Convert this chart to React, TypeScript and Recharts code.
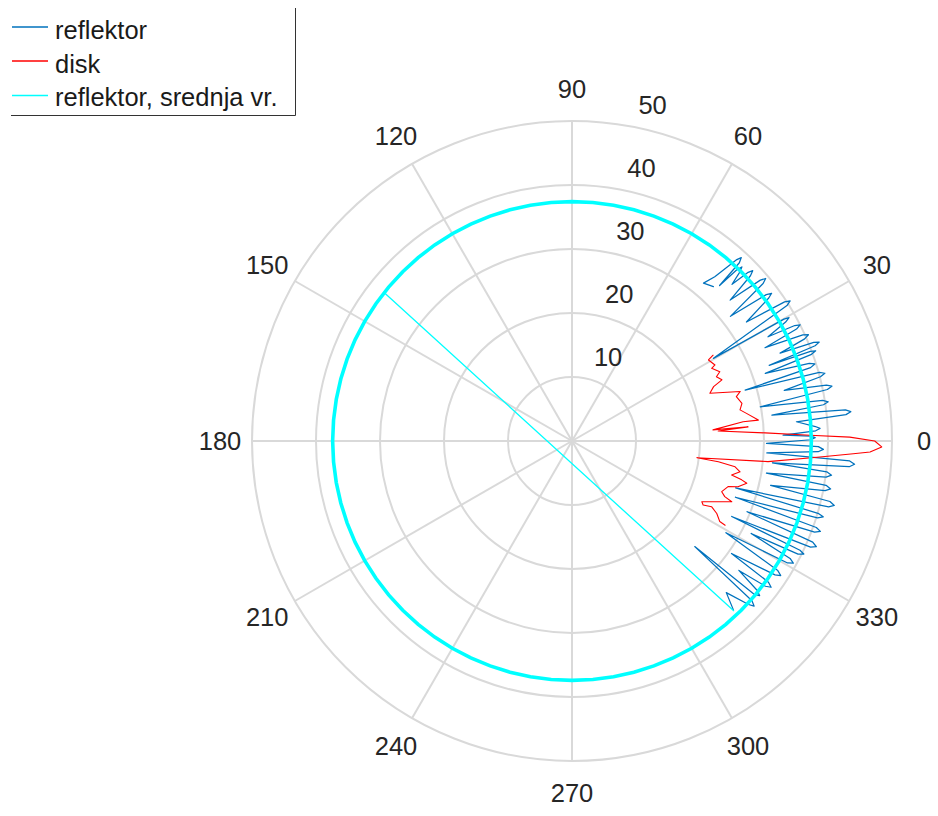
import React from 'react';
import { RadarChart, PolarGrid, PolarAngleAxis, PolarRadiusAxis, Radar } from 'recharts';

// ---------- data ----------
const ANGLE_TICKS = [0, 30, 60, 90, 120, 150, 180, 210, 240, 270, 300, 330];
const RADIUS_TICKS = [0, 10, 20, 30, 40, 50];

const SERIES_NAMES = ['reflektor', 'disk', 'reflektor, srednja vr.'];

// reflektor: angle (deg) and radius, in drawing order
const REFL_DEG = [
  -46.3, -44.5,
  -42.8, -42.2, -41.6, -40.7,
  -40.1, -39.5, -38.9, -37.8,
  -36.9, -36.3, -35.7, -35.2,
  -33.4, -32.8, -32.2, -30.8,
  -29.5, -28.9, -28.3, -27.3,
  -26.6, -26.0, -25.6, -25.3,
  -24.0, -23.4, -22.8, -22.0,
  -20.6, -20.0, -19.5, -19.0,
  -17.4, -16.8, -16.4, -16.0,
  -14.4, -13.8, -13.2, -12.6,
  -11.1, -10.5, -9.9, -9.4,
  -8.1, -7.5, -6.9, -6.2,
  -5.3, -4.7, -4.1, -3.5,
  -2.5, -1.9, -1.3, -0.7,
  0.3, 0.8, 1.2, 1.6,
  2.4, 2.9, 3.4, 4.9,
  5.5, 6.0, 6.5, 7.4,
  8.2, 8.7, 9.2, 10.3,
  11.4, 11.9, 12.4, 13.4,
  14.5, 15.0, 15.5, 16.4,
  17.1, 17.6, 18.1, 19.3,
  19.9, 20.3, 20.6, 21.0,
  21.4, 21.8, 22.2, 22.9,
  23.7, 24.2, 24.7, 25.8,
  26.5, 27.0, 27.4, 28.0,
  29.1, 29.6, 29.9, 30.3,
  32.2, 32.7, 33.2, 34.3,
  36.0, 36.5, 37.0, 38.2,
  39.5, 40.0, 40.5, 41.7,
  42.8, 43.3, 43.8, 44.4,
  45.2, 45.7, 46.1, 46.5,
  46.8, 47.3, 47.8, 49.0,
  50.2, 47.5,
];
const REFL_R = [
  36.5, 33.8,
  37.6, 38.4, 37.6, 25.3,
  37.2, 38.0, 37.2, 33.0,
  37.8, 38.6, 37.8, 30.5,
  38.0, 38.8, 38.0, 28.0,
  38.7, 39.5, 38.7, 31.5,
  39.5, 40.3, 39.5, 27.6,
  40.8, 41.6, 40.8, 29.5,
  40.5, 41.3, 40.5, 27.0,
  40.2, 41.0, 40.2, 26.6,
  41.4, 42.2, 41.4, 31.8,
  40.3, 41.1, 40.3, 30.8,
  40.1, 40.9, 40.1, 31.5,
  43.5, 44.3, 43.5, 30.5,
  38.5, 39.3, 38.5, 30.4,
  37.3, 38.0, 37.3, 33.0,
  38.1, 38.8, 38.1, 35.2,
  43.0, 43.8, 43.0, 31.5,
  39.7, 40.5, 39.7, 29.9,
  40.7, 41.5, 40.7, 34.1,
  40.1, 40.9, 40.1, 28.2,
  39.0, 39.8, 39.0, 32.0,
  39.8, 40.6, 39.8, 33.0,
  40.8, 41.6, 40.8, 35.3,
  39.7, 40.5, 39.7, 33.5,
  39.2, 40.0, 39.2, 34.7,
  38.2, 39.0, 38.2, 25.6,
  39.7, 40.5, 39.7, 33.0,
  38.0, 38.8, 38.0, 31.5,
  38.7, 39.5, 38.7, 33.1,
  38.0, 38.8, 38.0, 35.0,
  37.2, 38.0, 37.2, 33.5,
  38.2, 39.0, 38.2, 34.0,
  32.1, 32.7,
];

// disk
const DISK_DEG = [
  31.3, 30.7, 28.0, 27.5, 25.1, 24.0, 22.2, 21.0, 19.1, 16.4,
  15.1, 12.5, 10.5, 9.0, 6.4, 6.4, 4.5, 4.6, 3.9, 2.4,
  1.4, 0.8, 0.0, -1.1, -2.1, -2.6, -3.7, -6.0, -7.6, -8.1,
  -9.0, -10.4, -12.0, -12.9, -13.6, -15.4, -16.3, -18.7, -20.0, -20.8,
  -25.1, -26.0, -25.2, -26.6, -28.6, -28.8,
];
const DISK_R = [
  25.8, 24.8, 25.3, 24.6, 25.5, 24.7, 25.3, 23.7, 22.8, 27.4,
  26.6, 27.2, 26.7, 27.6, 29.3, 26.9, 22.1, 27.6, 22.9, 30.2,
  37.2, 43.4, 47.3, 48.4, 46.6, 44.0, 38.8, 30.8, 19.7, 23.1,
  25.8, 26.7, 25.5, 27.2, 28.1, 26.9, 25.4, 24.7, 25.4, 26.7,
  22.4, 22.8, 24.1, 25.3, 26.3, 27.3,
];

// reflektor, srednja vr. (mean value, drawn around the full circle)
const MEAN_R = 37.4;
const MEAN_DEG = [
  0, 5, 10, 15, 20, 25, 30, 35, 40, 45, 50, 55, 60, 65, 70, 75, 80, 85,
  90, 95, 100, 105, 110, 115, 120, 125, 130, 135, 140, 145, 150, 155, 160, 165, 170, 175,
  180, 185, 190, 195, 200, 205, 210, 215, 220, 225, 230, 235, 240, 245, 250, 255, 260, 265,
  270, 275, 280, 285, 290, 295, 300, 305, 310, 315, 320, 325, 330, 335, 340, 345, 350, 355,
];
const CHORD_DEG = [141.7, 313.6];
const CHORD_R = [37.2, 36.7];

// ---------- tables for the charts ----------
type Row = { a: number; r: number };
const norm = (d: number) => ((d % 360) + 360) % 360;

function closedTrace(angles: number[], values: number[]): Row[] {
  return angles.map((a, i) => ({ a: norm(a), r: values[i] }));
}
// an open trace: the radar polygon walks the trace and then back over itself,
// so the closing edge of the polygon lies on the trace itself
function openTrace(angles: number[], values: number[]): Row[] {
  const fwd = closedTrace(angles, values);
  return [...fwd, ...fwd.slice(1, -1).reverse()];
}

const REFL_ROWS = openTrace(REFL_DEG, REFL_R);
const DISK_ROWS = openTrace(DISK_DEG, DISK_R);
const MEAN_ROWS = closedTrace(MEAN_DEG, MEAN_DEG.map(() => MEAN_R));
const CHORD_ROWS = closedTrace(CHORD_DEG, CHORD_R);

const COLORS = { refl: '#0072BD', disk: '#FF0000', mean: '#00FFFF' };
const FONT = '"Liberation Sans", Arial, Helvetica, sans-serif';
const TEXT = '#262626';
const W = 938;
const H = 816;

const AngleTick = (props: any) => {
  const { x, y, payload } = props;
  return (
    <text x={x} y={y} textAnchor="middle" dominantBaseline="central" fontFamily={FONT} fontSize={25.5} fill={TEXT}>
      {payload.value}
    </text>
  );
};

const RadiusTick = (props: any) => {
  const { x, y, payload } = props;
  if (payload.value === 0) return <g />;
  return (
    <text x={x + 25} y={y - 21} textAnchor="middle" dominantBaseline="central" fontFamily={FONT} fontSize={25.5} fill={TEXT}>
      {payload.value}
    </text>
  );
};

type FrameProps = { data: Row[]; withAxes?: boolean; children?: React.ReactNode };

const PolarFrame = ({ data, withAxes, children }: FrameProps) => (
  <div style={{ position: 'absolute', left: 0, top: 0, width: W, height: H }}>
    <RadarChart
      width={W}
      height={H}
      data={data}
      cx={572}
      cy={441}
      outerRadius={320}
      startAngle={0}
      endAngle={360}
      margin={{ top: 0, right: 0, bottom: 0, left: 0 }}
    >
      {withAxes && <PolarGrid gridType="circle" stroke="#d9d9d9" strokeWidth={2} />}
      <PolarAngleAxis
        dataKey="a"
        type="number"
        domain={[0, 360]}
        allowDataOverflow
        ticks={ANGLE_TICKS as any}
        tickCount={13}
        axisLine={false}
        tickLine={false}
        tickSize={32}
        tick={withAxes ? <AngleTick /> : false}
      />
      <PolarRadiusAxis
        angle={80}
        type="number"
        domain={[0, 50]}
        allowDataOverflow
        ticks={RADIUS_TICKS as any}
        tickCount={6}
        axisLine={false}
        tickLine={false}
        tick={withAxes ? <RadiusTick /> : false}
      />
      {children}
    </RadarChart>
  </div>
);

const LegendBox = () => {
  const rows = [
    { name: SERIES_NAMES[0], color: COLORS.refl, ly: 27, ty: 39.3 },
    { name: SERIES_NAMES[1], color: COLORS.disk, ly: 61, ty: 72.7 },
    { name: SERIES_NAMES[2], color: COLORS.mean, ly: 95.5, ty: 106 },
  ];
  return (
    <svg width={310} height={125} style={{ position: 'absolute', left: 0, top: 0 }}>
      <rect x={11} y={-2} width={284.5} height={117.5} fill="#ffffff" stroke="none" />
      <line x1={295.5} y1={8} x2={295.5} y2={115.5} stroke="#333333" strokeWidth={1} />
      <line x1={11} y1={115.5} x2={295.5} y2={115.5} stroke="#333333" strokeWidth={1} />
      {rows.map((r) => (
        <g key={r.name}>
          <line x1={12} y1={r.ly} x2={48} y2={r.ly} stroke={r.color} strokeWidth={1.3} />
          <text x={55} y={r.ty} fontFamily={FONT} fontSize={25.5} fill="#1a1a1a">
            {r.name}
          </text>
        </g>
      ))}
    </svg>
  );
};

export default function App() {
  return (
    <div style={{ position: 'absolute', left: 0, top: 0, width: W, height: H, background: '#ffffff' }}>
      <PolarFrame data={REFL_ROWS} withAxes>
        <Radar dataKey="r" name={SERIES_NAMES[0]} stroke={COLORS.refl} strokeWidth={1.25} fill="none" fillOpacity={0} dot={false} isAnimationActive={false} strokeLinejoin="round" />
      </PolarFrame>
      <PolarFrame data={DISK_ROWS}>
        <Radar dataKey="r" name={SERIES_NAMES[1]} stroke={COLORS.disk} strokeWidth={1.1} fill="none" fillOpacity={0} dot={false} isAnimationActive={false} strokeLinejoin="round" />
      </PolarFrame>
      <PolarFrame data={MEAN_ROWS}>
        <Radar dataKey="r" name={SERIES_NAMES[2]} stroke={COLORS.mean} strokeWidth={3.6} fill="none" fillOpacity={0} dot={false} isAnimationActive={false} />
      </PolarFrame>
      <PolarFrame data={CHORD_ROWS}>
        <Radar dataKey="r" name={SERIES_NAMES[2]} stroke={COLORS.mean} strokeWidth={1.3} fill="none" fillOpacity={0} dot={false} isAnimationActive={false} legendType="none" />
      </PolarFrame>
      <LegendBox />
    </div>
  );
}
